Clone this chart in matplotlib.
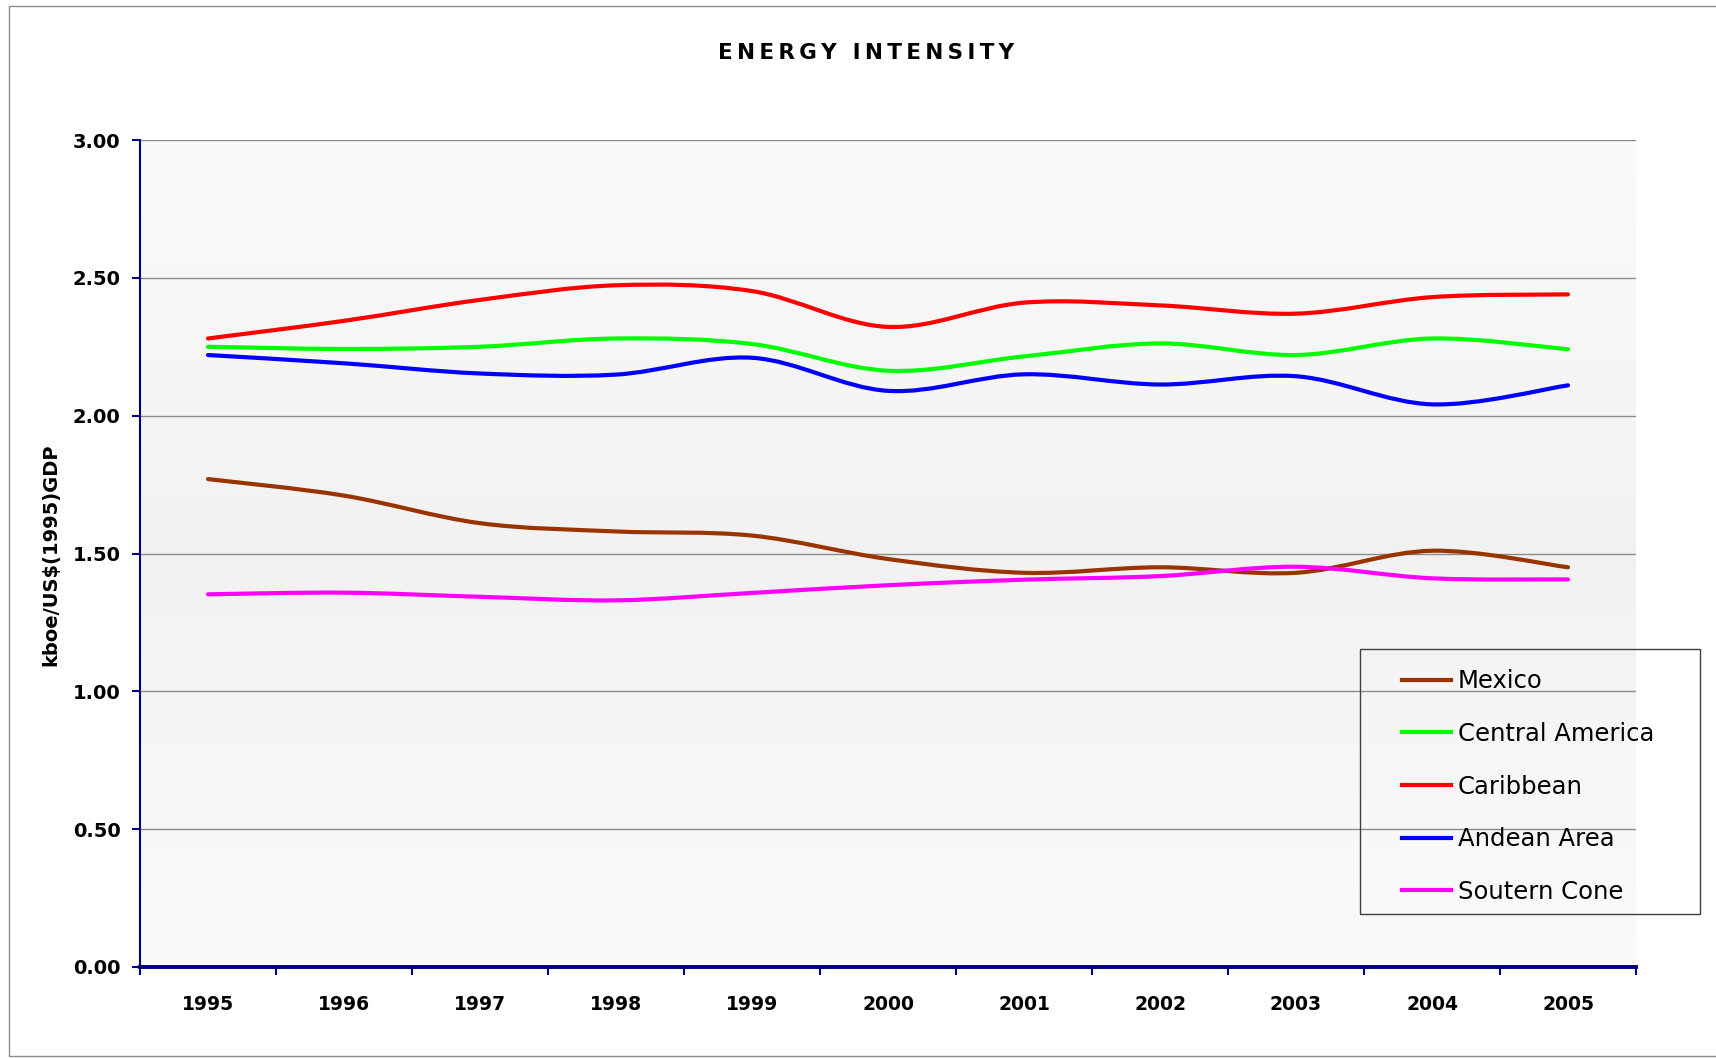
import numpy as np
import matplotlib
matplotlib.use("Agg")
from matplotlib import pyplot as plt
from matplotlib.path import Path
from matplotlib.patches import PathPatch, Rectangle
from matplotlib.lines import Line2D

# values (kboe per US$ of 1995 GDP)
years = ['1995', '1996', '1997', '1998', '1999', '2000', '2001', '2002', '2003', '2004', '2005']
mexico = [1.77, 1.71, 1.61, 1.58, 1.565, 1.48, 1.43, 1.45, 1.43, 1.51, 1.45]
central_america = [2.25, 2.242, 2.25, 2.28, 2.26, 2.163, 2.215, 2.262, 2.22, 2.28, 2.241]
caribbean = [2.28, 2.344, 2.42, 2.473, 2.452, 2.322, 2.41, 2.40, 2.37, 2.43, 2.44]
andean_area = [2.22, 2.19, 2.153, 2.149, 2.21, 2.09, 2.15, 2.113, 2.143, 2.041, 2.11]
southern_cone = [1.352, 1.358, 1.343, 1.33, 1.357, 1.385, 1.405, 1.418, 1.452, 1.41, 1.406]

series = [
    ('Mexico', mexico, '#993300'),
    ('Central America', central_america, '#00ff00'),
    ('Caribbean', caribbean, '#ff0000'),
    ('Andean Area', andean_area, '#0000ff'),
    ('Soutern Cone', southern_cone, '#ff00ff'),
]

NAVY = '#000080'
W, H = 1716, 1058


def smooth_path(x, y):
    # Excel-like smoothed line: Bezier segments through the data points
    pts = np.column_stack([x, y])
    n = len(pts)
    verts = [pts[0]]
    codes = [Path.MOVETO]
    for i in range(n - 1):
        p0 = pts[i - 1] if i > 0 else pts[i]
        p1 = pts[i]
        p2 = pts[i + 1]
        p3 = pts[i + 2] if i + 2 < n else pts[i + 1]
        c1 = p1 + (p2 - p0) / 6.0
        c2 = p2 - (p3 - p1) / 6.0
        verts += [c1, c2, p2]
        codes += [Path.CURVE4] * 3
    return Path(verts, codes)


def spaced(s):
    # loose letter spacing like the original title
    return '\u2009'.join(s)


fig = plt.figure(figsize=(W / 100, H / 100), dpi=100)
ax = fig.add_axes([140 / W, 1 - 967 / H, 1496 / W, 827 / H])

# soft vertical gradient behind the plot area
t = np.linspace(0, 1, 200)
g = 0.948 + 0.035 * np.abs(t - 0.5) * 2
grad = np.dstack([g, g, g]).reshape(200, 1, 3)
ax.imshow(grad, extent=(0, 11, 0, 3), origin='lower', aspect='auto', zorder=0)

xpos = np.arange(len(years)) + 0.5
for name, vals, col in series:
    ax.add_patch(PathPatch(smooth_path(xpos, vals), fill=False, edgecolor=col,
                           lw=3, capstyle='round', joinstyle='round', zorder=3))

ax.set_xlim(0, 11)
ax.set_ylim(0, 3)
ax.set_yticks(np.arange(0, 3.01, 0.5))
ax.set_yticklabels(['%.2f' % v for v in np.arange(0, 3.01, 0.5)])
ax.yaxis.grid(True, color='#8c8c8c', lw=1, zorder=1)

ax.set_xticks(range(12))
ax.set_xticklabels([])
ax.set_xticks(xpos, minor=True)
ax.set_xticklabels(years, minor=True)

ax.tick_params(axis='y', direction='out', length=6, width=1.5, color=NAVY, pad=8, labelsize=14)
ax.tick_params(axis='x', which='major', direction='out', length=6, width=1.5, color=NAVY)
ax.tick_params(axis='x', which='minor', length=0, pad=20, labelsize=13.5)
for lab in ax.get_yticklabels() + ax.get_xticklabels(minor=True):
    lab.set_fontweight('bold')

for s in ['top', 'right']:
    ax.spines[s].set_visible(False)
ax.spines['left'].set_color(NAVY)
ax.spines['left'].set_linewidth(1.5)
ax.spines['bottom'].set_color(NAVY)
ax.spines['bottom'].set_linewidth(2.8)

fig.text(866 / W, 1 - 53 / H, spaced('ENERGY INTENSITY'), ha='center', va='center',
         fontsize=15.5, fontweight='bold')
fig.text(51 / W, 1 - 555 / H, 'kboe/US$(1995)GDP', rotation=90, ha='center', va='center',
         fontsize=14, fontweight='bold')

# legend with a plain square frame
fig.patches.append(Rectangle((1360 / W, 1 - 914 / H), 340 / W, 265 / H,
                             transform=fig.transFigure, fill=False, ec='#404040', lw=1))
handles = [Line2D([], [], color=c, lw=3) for _, _, c in series]
fig.legend(handles, [n for n, _, _ in series], loc='upper left',
           bbox_to_anchor=(1390 / W, 1 - 657 / H), frameon=False, borderpad=0,
           handlelength=2.0, handletextpad=0.3, labelspacing=1.18, fontsize=17.5)

# outer chart border
fig.patches.append(Rectangle((9 / W, 1 - 1056 / H), 1800 / W, 1050 / H,
                             transform=fig.transFigure, fill=False, ec='#8c8c8c', lw=1))

fig.savefig('out.png', dpi=100)
